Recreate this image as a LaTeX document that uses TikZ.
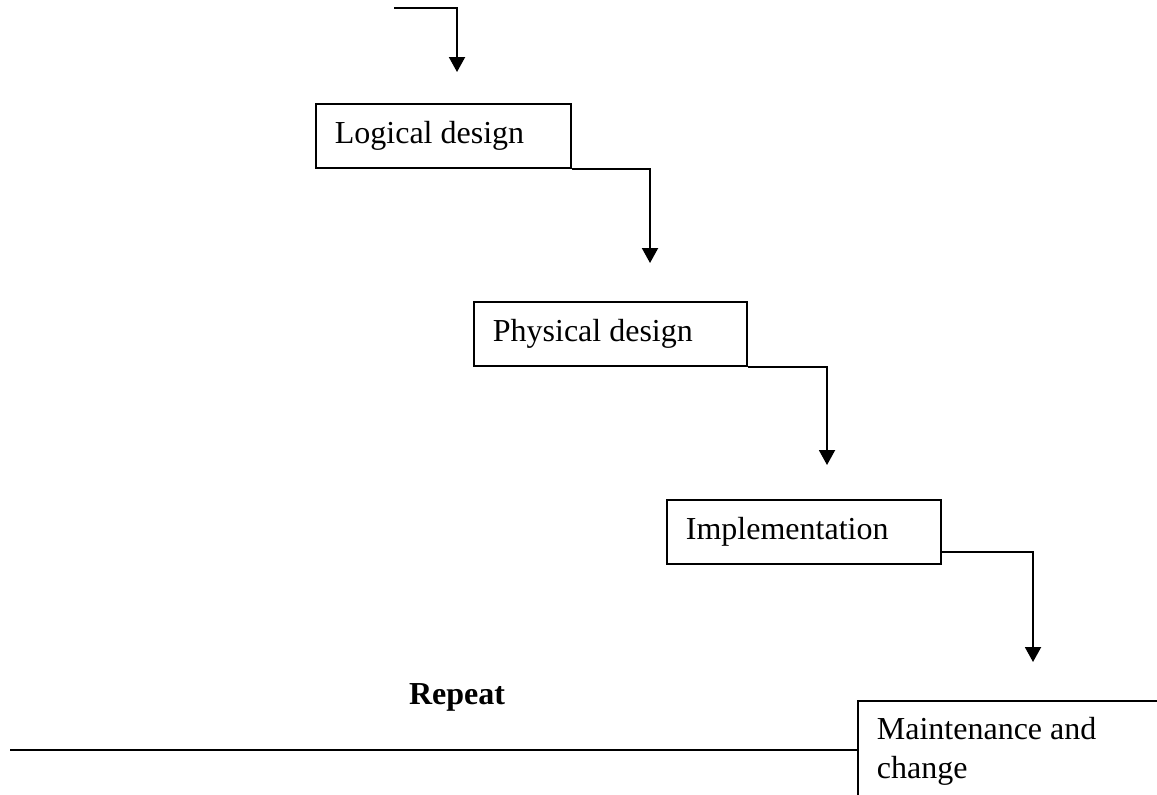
\documentclass[tikz,border=0pt]{standalone}
\usepackage{fontspec}
\setmainfont{Liberation Serif}
\usetikzlibrary{arrows.meta, positioning}

\begin{document}
\begin{tikzpicture}[x=0.4pt, y=-0.4pt,
    stage/.style={draw, line width=0.7pt, anchor=north west, inner xsep=7.6pt,
      align=flush left, minimum height=25.6pt, font=\fontsize{12.8}{15.6}\selectfont},
    flow/.style={line width=0.8pt, -{Triangle[width=6.4pt, length=6pt]}}]
  % Waterfall of design stages
  \useasboundingbox (0,0) rectangle (1157,794);
  \clip (0,0) rectangle (1157,794);
  \node[stage, text width=86.8pt] (logical) at (315,103) {Logical design};
  \node[stage, text width=94pt] (physical) at (473,301) {Physical design};
  \node[stage, text width=94.4pt] (implement) at (666,499) {Implementation};
  \node[stage, text width=122pt, inner ysep=6.6pt] (maint) at (857,700) {Maintenance and\\change};
  \node[font=\fontsize{12.8}{14}\selectfont\bfseries] (repeat) at (457,697) {Repeat};
  \coordinate (entry) at (394,8);
  \coordinate (tip1) at (457,72);
  \coordinate (tip2) at (650,263);
  \coordinate (tip3) at (827,465);
  \coordinate (tip4) at (1033,662);
  \coordinate (loopend) at (10,750);
  \draw[flow] (entry) -| (tip1);
  \draw[flow] (logical.south east) -| (tip2);
  \draw[flow] (physical.south east) -| (tip3);
  \draw[flow] ([yshift=5pt]implement.south east) -| (tip4);
  \draw[line width=0.8pt] (loopend) -- (loopend -| maint.west);
\end{tikzpicture}
\end{document}
